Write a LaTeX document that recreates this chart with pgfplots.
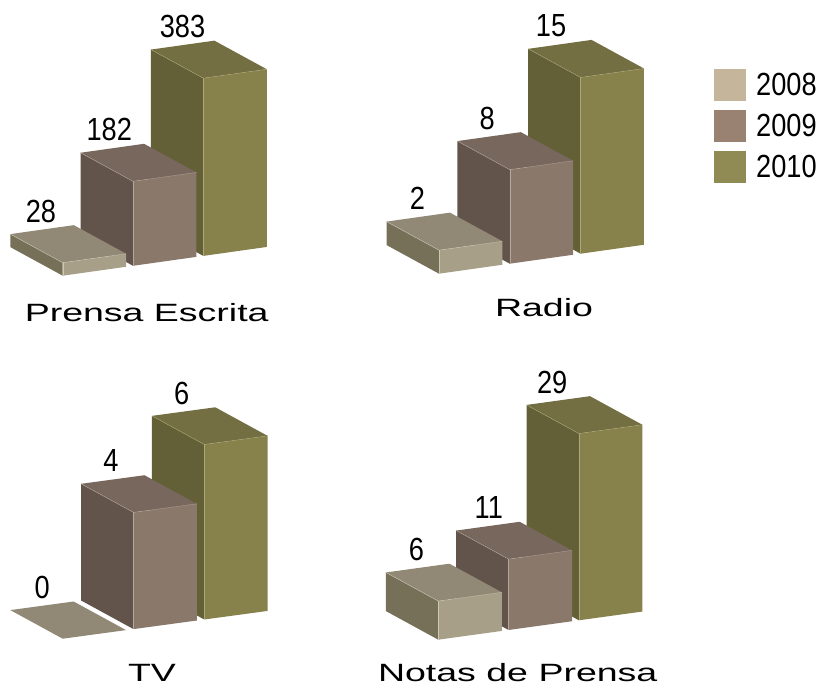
\documentclass[border=0pt]{standalone}
\usepackage{pgfplots}
\pgfplotsset{compat=1.18}
\usepackage{fontspec}
\setmainfont{Liberation Sans}
\newfontfamily\numfont[FakeStretch=0.85]{Liberation Sans}
\newfontfamily\catfont[FakeStretch=1.5]{Liberation Sans}
\definecolor{F08}{HTML}{A89F88}\definecolor{T08}{HTML}{918975}\definecolor{S08}{HTML}{767058}\definecolor{H08}{HTML}{CFC8B4}
\definecolor{F09}{HTML}{8A786B}\definecolor{T09}{HTML}{78675C}\definecolor{S09}{HTML}{62544B}\definecolor{H09}{HTML}{B5A79C}
\definecolor{F10}{HTML}{87814B}\definecolor{T10}{HTML}{746F42}\definecolor{S10}{HTML}{635F36}\definecolor{H10}{HTML}{ACA878}
\definecolor{L08}{HTML}{C4B59B}\definecolor{L09}{HTML}{9A8273}\definecolor{L10}{HTML}{908A55}
% #1 left x, #2 right x, #3 value, #4 colour suffix
\newcommand{\threebar}[4]{%
\addplot3[fill=S#4,draw=none,forget plot] coordinates {(#1,0,0)(#1,1,0)(#1,1,#3)(#1,0,#3)};
\addplot3[fill=F#4,draw=none,forget plot] coordinates {(#1,0,0)(#2,0,0)(#2,0,#3)(#1,0,#3)};
\addplot3[fill=T#4,draw=none,forget plot] coordinates {(#1,0,#3)(#2,0,#3)(#2,1,#3)(#1,1,#3)};
\addplot3[H#4,line width=0.35pt,forget plot] coordinates {(#1,1,#3)(#1,0,#3)(#2,0,#3)};
\addplot3[H#4,line width=0.35pt,forget plot] coordinates {(#1,0,#3)(#1,0,0)};
}
\newcommand{\flatbar}[4]{%
\addplot3[fill=T#4,draw=none,forget plot] coordinates {(#1,0,#3)(#2,0,#3)(#2,1,#3)(#1,1,#3)};
}
% #1 centre x, #2 value, #3 text, #4 xshift
\newcommand{\vallabel}[4]{%
\node[anchor=base,inner sep=0pt,xshift=#4bp,yshift=7.5bp,font=\numfont\fontsize{32bp}{36bp}\selectfont] at (axis cs:#1,1,#2) {#3};
}
\pgfplotsset{panel/.style={hide axis,clip=false,anchor=origin,
  xmin=0,xmax=2.9,ymin=0,ymax=1,zmin=0,
  y={(-52.4bp,28.6bp)}}}
\begin{document}
\begin{tikzpicture}
\path[use as bounding box] (0,0) rectangle (822bp,688bp);
% Prensa Escrita
\begin{axis}[panel,at={(62.7bp,412.3bp)},x={(70.3bp,9.9bp)},z={(0bp,0.464bp)},zmax=383]
\threebar{2}{2.903}{383}{10}
\threebar{1}{1.903}{182}{09}
\threebar{0}{0.903}{28}{08}
\vallabel{2.45}{383}{383}{0}
\vallabel{1.45}{182}{182}{-3}
\vallabel{0.45}{28}{28}{-1}
\end{axis}
% Radio
\begin{axis}[panel,at={(439bp,414.3bp)},x={(70.8bp,10bp)},z={(0bp,11.75bp)},zmax=15]
\threebar{2}{2.895}{15}{10}
\threebar{1}{1.895}{8}{09}
\threebar{0}{0.895}{2}{08}
\vallabel{2.45}{15}{15}{-9}
\vallabel{1.45}{8}{8}{-2}
\vallabel{0.45}{2}{2}{-1}
\end{axis}
% TV
\begin{axis}[panel,at={(62.7bp,49.3bp)},x={(70.8bp,9.6bp)},z={(0bp,29.17bp)},zmax=6]
\threebar{2}{2.895}{6}{10}
\threebar{1}{1.895}{4}{09}
\flatbar{0}{0.895}{0}{08}
\vallabel{2.45}{6}{6}{-2}
\vallabel{1.45}{4}{4}{-2}
\vallabel{0.45}{0}{0}{0}
\end{axis}
% Notas de Prensa
\begin{axis}[panel,at={(438.3bp,48.3bp)},x={(70.3bp,9.7bp)},z={(0bp,6.44bp)},zmax=29]
\threebar{2}{2.903}{29}{10}
\threebar{1}{1.903}{11}{09}
\threebar{0}{0.903}{6}{08}
\vallabel{2.45}{29}{29}{-6}
\vallabel{1.45}{11}{11}{1}
\vallabel{0.45}{6}{6}{-1}
\end{axis}
% Legend
\begin{axis}[hide axis,scale only axis,width=100bp,height=120bp,at={(714bp,504bp)},anchor=south west,
  xmin=0,xmax=1,ymin=0,ymax=1,
  legend style={at={(0,1)},anchor=north west,draw=none,fill=none,inner sep=0pt,outer sep=0pt,
    row sep=0pt,column sep=0pt,font=\numfont\fontsize{32bp}{36bp}\selectfont,
    nodes={inner sep=0pt,minimum height=41bp,text depth=0pt}},
  legend cell align=left]
\addlegendimage{legend image code/.code={\fill[L08] (0bp,-15.5bp) rectangle (31bp,15.5bp);\path[draw=none] (31bp,0) -- (42bp,0);}}
\addlegendentry{2008}
\addlegendimage{legend image code/.code={\fill[L09] (0bp,-15.5bp) rectangle (31bp,15.5bp);\path[draw=none] (31bp,0) -- (42bp,0);}}
\addlegendentry{2009}
\addlegendimage{legend image code/.code={\fill[L10] (0bp,-15.5bp) rectangle (31bp,15.5bp);\path[draw=none] (31bp,0) -- (42bp,0);}}
\addlegendentry{2010}
\end{axis}
% Category names
\begin{scope}[every node/.style={anchor=base,inner sep=0pt,font=\catfont\fontsize{25bp}{28bp}\selectfont}]
\node at (146.7bp,366.3bp) {Prensa Escrita};
\node at (544bp,371.3bp) {Radio};
\node at (152bp,6.3bp) {TV};
\node at (517.7bp,6.3bp) {Notas de Prensa};
\end{scope}
\end{tikzpicture}
\end{document}
